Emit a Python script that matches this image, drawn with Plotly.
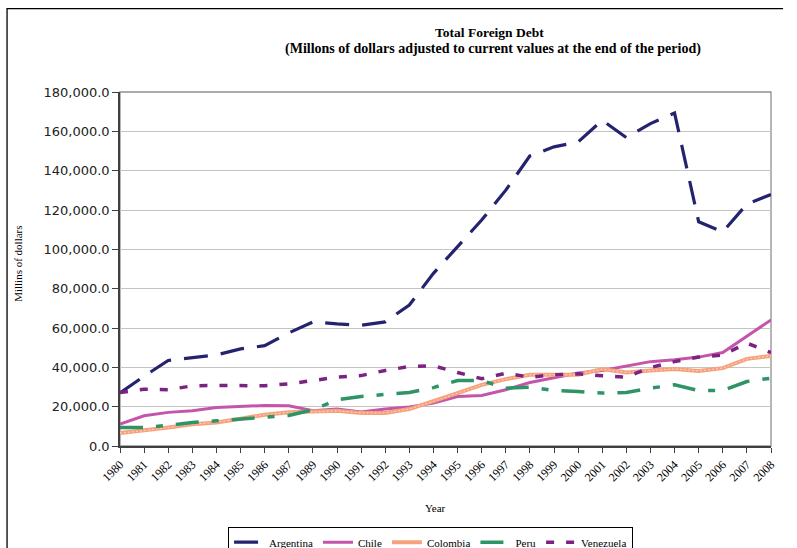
'''Total foreign debt chart, redrawn with plotly'''

import plotly.graph_objects as go

years = ["1980", "1981", "1982", "1983", "1984", "1985", "1986", "1987", "1989",
         "1990", "1991", "1992", "1993", "1994", "1995", "1996", "1997", "1998",
         "1999", "2000", "2001", "2002", "2003", "2004", "2005", "2006", "2007", "2008"]

argentina = [27000, 35500, 43500, 45000, 46300, 49400, 51000, 57500, 63100,
             62100, 61400, 63100, 71700, 87800, 101300, 114900, 130100, 147500,
             152100, 154600, 165600, 156800, 163900, 169300, 114000, 108900, 123000, 127900]
chile = [11200, 15400, 17100, 17900, 19600, 20100, 20600, 20500, 17900,
         18800, 17300, 18800, 19800, 21800, 25200, 25700, 28600, 32300,
         34800, 37100, 38400, 40800, 42900, 43800, 45200, 47500, 55600, 64100]
colombia = [6600, 7800, 9400, 11100, 12000, 13900, 15900, 17100, 17300,
            17900, 16800, 16800, 18800, 22600, 26900, 31100, 34000, 36200,
            36200, 36200, 39100, 37400, 38400, 39200, 38200, 39600, 44300, 45800]
peru = [9400, 9400, 10500, 12000, 12800, 13700, 14500, 15500, 18400,
        23500, 25200, 26400, 27200, 29700, 33300, 33300, 29400, 29900,
        28200, 27700, 26900, 27200, 29400, 31100, 28200, 28200, 32800, 34500]
venezuela = [27200, 28900, 28600, 30600, 30800, 30800, 30600, 31600, 33300,
             35000, 35800, 38400, 40400, 40800, 37400, 34200, 37000, 35000,
             36200, 36700, 35700, 35000, 39900, 42900, 45200, 46300, 52300, 47500]

SERIF = "Liberation Serif, Times New Roman, serif"
SANS = "DejaVu Sans, Verdana, sans-serif"

fig = go.Figure()

fig.add_trace(go.Scatter(x=years, y=argentina, mode="lines", name="Argentina",
                         line=dict(color="#23236f", width=3.2, dash="24px,13px")))
fig.add_trace(go.Scatter(x=years, y=chile, mode="lines", name="Chile",
                         line=dict(color="#c455aa", width=3)))
fig.add_trace(go.Scatter(x=years, y=colombia, mode="lines", name="Colombia",
                         line=dict(color="#f5a27c", width=4)))
# thin light stripe over Colombia to fake the hatched fill
fig.add_trace(go.Scatter(x=years, y=colombia, mode="lines", showlegend=False,
                         hoverinfo="skip",
                         line=dict(color="rgba(255,255,255,0.55)", width=1, dash="2px,2px")))
fig.add_trace(go.Scatter(x=years, y=peru, mode="lines", name="Peru",
                         line=dict(color="#2e9466", width=3.5, dash="23px,13px,7px,13px")))
fig.add_trace(go.Scatter(x=years, y=venezuela, mode="lines", name="Venezuela",
                         line=dict(color="#7b2383", width=3.5, dash="8px,12px")))

fig.update_layout(
    width=797, height=548,
    margin=dict(l=120, r=26, t=92, b=102, autoexpand=False),
    paper_bgcolor="white", plot_bgcolor="white",
    font=dict(family=SERIF, size=11, color="black"),
    showlegend=True,
    legend=dict(orientation="h", x=0.166, xanchor="left", y=-0.228, yanchor="top",
                bordercolor="black", borderwidth=1, bgcolor="white",
                font=dict(family=SERIF, size=11, color="black"),
                itemwidth=30, tracegroupgap=0),
)

fig.update_xaxes(
    type="category", range=[0, 27], dtick=1,
    tickangle=-45, ticks="outside", ticklen=5, tickcolor="#404040",
    tickfont=dict(family=SERIF, size=12, color="black"),
    showline=True, linecolor="#404040", linewidth=1.5,
    showgrid=False, zeroline=False, automargin=False,
)
fig.update_yaxes(
    range=[0, 180000], dtick=20000, tickformat=",.1f",
    ticks="outside", ticklen=6, tickcolor="#404040",
    tickfont=dict(family=SANS, size=13, color="#222222"),
    showline=True, linecolor="#404040", linewidth=1.5,
    showgrid=True, gridcolor="#c4c4c4", gridwidth=1.3, zeroline=False, automargin=False,
)

# gray plot frame (top/right) and outer page frame
fig.add_shape(type="rect", xref="paper", yref="paper", x0=0, x1=1, y0=0, y1=1,
              line=dict(color="#909090", width=1.3), layer="below")
fig.add_shape(type="path", xref="paper", yref="paper",
              path="M -0.1735,-0.32 L -0.1735,1.2355 L 1.0185,1.2355",
              line=dict(color="black", width=1.3))

fig.add_annotation(text="<b>Total Foreign Debt</b>", xref="paper", yref="paper",
                   x=0.568, y=1.167, showarrow=False, xanchor="center", yanchor="middle",
                   font=dict(family=SERIF, size=13.5, color="black"))
fig.add_annotation(text="<b>(Millons of dollars adjusted to current values at the end of the period)</b>",
                   xref="paper", yref="paper", x=0.573, y=1.121, showarrow=False,
                   xanchor="center", yanchor="middle",
                   font=dict(family=SERIF, size=14, color="black"))
fig.add_annotation(text="Year", xref="paper", yref="paper", x=0.485, y=-0.175,
                   showarrow=False, xanchor="center", yanchor="middle",
                   font=dict(family=SERIF, size=11, color="black"))
fig.add_annotation(text="Millins of dollars", xref="paper", yref="paper",
                   x=-0.157, y=0.514, textangle=-90, showarrow=False,
                   xanchor="center", yanchor="middle",
                   font=dict(family=SERIF, size=11, color="black"))

# drop the default 8px page margin so the figure sits at the window corner
fig.write_html("out.html", config={"displayModeBar": False},
               post_script="document.body.style.margin='0';")
